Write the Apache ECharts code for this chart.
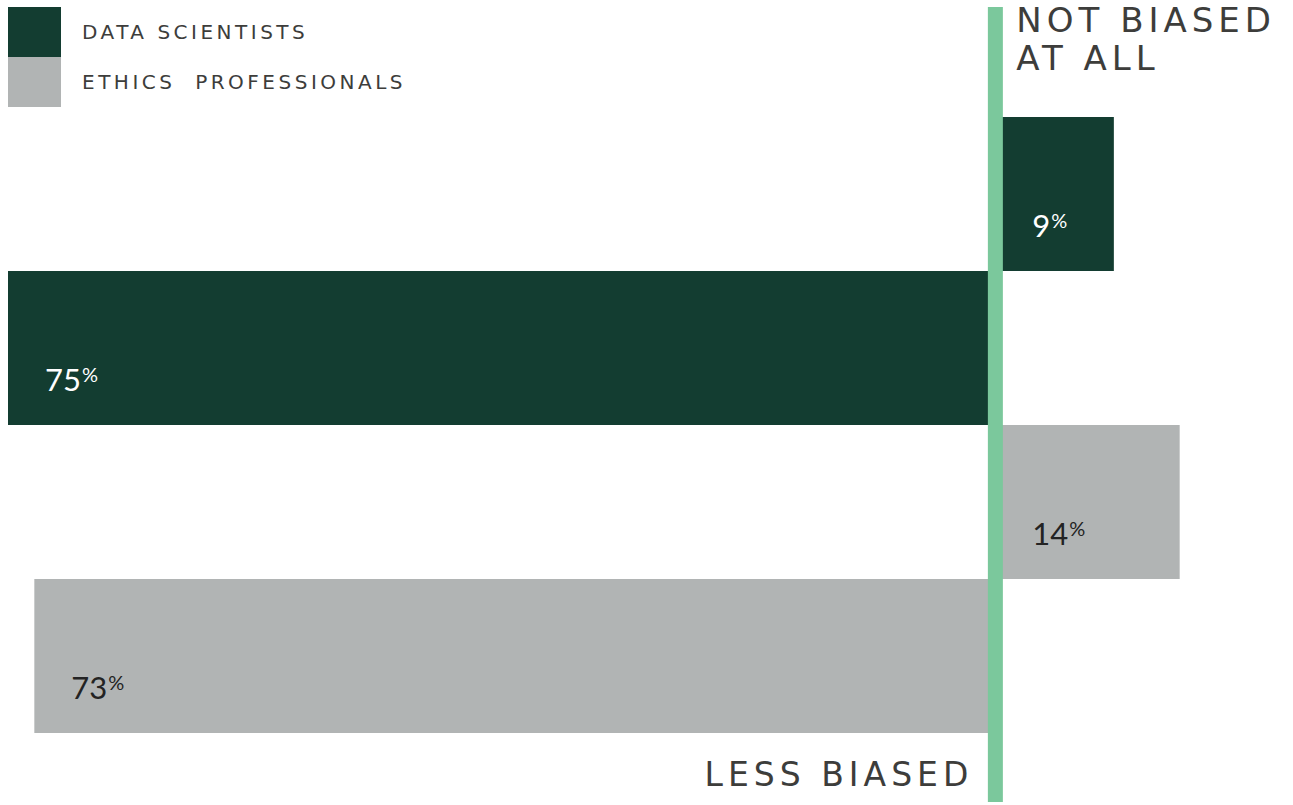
<!DOCTYPE html>
<html><head><meta charset="utf-8">
<script src="https://cdn.jsdelivr.net/npm/echarts@6/dist/echarts.min.js"></script>
<style>
html,body{margin:0;padding:0;background:#fff;}
#c{width:1293px;height:805px;}
#c svg text{white-space:pre;}
#c svg text[style*="DejaVu"]{letter-spacing:5px;}
#c svg text[style*="20px"]{letter-spacing:3.5px;}
</style></head><body><div id="c"></div>
<script>
const groups = ['Data Scientists', 'Ethics Professionals'];
const legendLabels = ['DATA SCIENTISTS', 'ETHICS  PROFESSIONALS'];
const rowNames = ['not biased at all', 'less biased'];
const notBiasedAtAll = [9, 14];
const lessBiased = [75, 73];
const colors = ['#133D31', '#B1B4B4'];
const labelColors = ['#ffffff', '#232323'];
const sideTitles = ['NOT BIASED\nAT ALL', 'LESS BIASED'];

const categories = [];
groups.forEach(g => rowNames.forEach(r => categories.push(g + ' – ' + r)));

const chart = echarts.init(document.getElementById('c'), null, {renderer: 'svg'});

const series = groups.map((g, i) => ({
  name: g,
  type: 'bar',
  stack: 'all',
  barCategoryGap: '0%',
  barWidth: '100%',
  itemStyle: {color: colors[i]},
  emphasis: {disabled: true},
  data: categories.map((c, k) => Math.floor(k / 2) === i ? (k % 2 === 0 ? notBiasedAtAll[i] : -lessBiased[i]) : null),
  label: {
    show: true,
    position: [37, 108],
    verticalAlign: 'middle',
    formatter: p => '{v|' + Math.abs(p.value) + '}{p|%}',
    rich: {
      v: {fontFamily: 'Lato', fontSize: 31, color: labelColors[i], lineHeight: 30},
      p: {fontFamily: 'Lato', fontSize: 20, color: labelColors[i], verticalAlign: 'top', lineHeight: 18, padding: [0, 0, 0, 1]}
    }
  }
}));

chart.setOption({
  animation: false,
  backgroundColor: '#ffffff',
  grid: {left: 8, right: 8, top: 117, bottom: 72, containLabel: false},
  xAxis: {type: 'value', min: -75, max: 22, show: false},
  yAxis: {type: 'category', data: categories, inverse: true, show: false},
  legend: {
    orient: 'vertical', left: 8, top: 7, itemGap: 0, padding: 0,
    itemWidth: 53, itemHeight: 50, icon: 'rect',
    selectedMode: false,
    data: groups,
    formatter: name => legendLabels[groups.indexOf(name)],
    textStyle: {fontFamily: 'DejaVu Sans', fontSize: 20, color: '#3D3D3B', padding: [0, 0, 0, 16]}
  },
  series: series
});

const x0 = chart.convertToPixel({xAxisIndex: 0}, 0);
chart.setOption({
  graphic: [
    {type: 'rect', z: 100, shape: {x: x0 - 7.5, y: 7, width: 15, height: 795}, style: {fill: '#7BC89C'}},
    {type: 'text', z: 100, x: x0 + 21, y: 1, style: {text: sideTitles[0], fontFamily: 'DejaVu Sans', fontSize: 34, lineHeight: 38, fill: '#3D3D3B', textVerticalAlign: 'top'}},
    {type: 'text', z: 100, x: x0 - 22, y: 774, style: {text: sideTitles[1], fontFamily: 'DejaVu Sans', fontSize: 33, fill: '#3D3D3B', textAlign: 'right', textVerticalAlign: 'middle'}}
  ]
});
</script></body></html>
